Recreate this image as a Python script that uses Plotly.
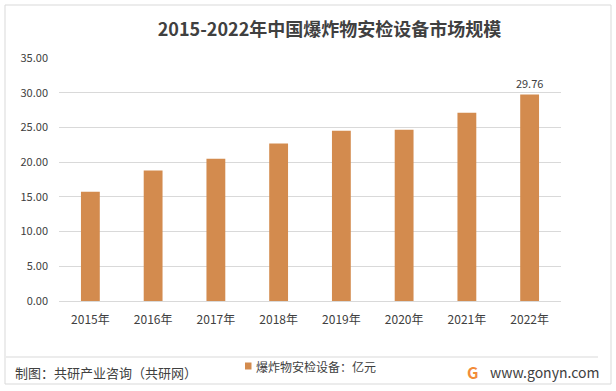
import plotly.graph_objects as go

years = ["2015年", "2016年", "2017年", "2018年", "2019年", "2020年", "2021年", "2022年"]
values = [15.73, 18.80, 20.50, 22.70, 24.53, 24.68, 27.13, 29.76]
labels = ["", "", "", "", "", "", "", "29.76"]
y_ticks = [0, 5, 10, 15, 20, 25, 30, 35]
series_name = "爆炸物安检设备：亿元"

FONT = "Noto Sans CJK SC"
BAR = "#D38B4E"
TXT = "#404040"

W, H = 616, 391
L, R, T, B = 59, 55, 58, 90
PW, PH = W - L - R, H - T - B


def px(x):
    return (x - L) / PW


def py(y):
    return (H - B - y) / PH


fig = go.Figure()
fig.add_trace(go.Bar(
    x=years, y=values, name=series_name,
    marker=dict(color=BAR, line=dict(width=0)),
    width=0.30,
    text=labels, textposition="outside", constraintext="none",
    textfont=dict(size=11, color=TXT, family=FONT),
    cliponaxis=False, showlegend=False,
))

fig.update_layout(
    width=W, height=H,
    margin=dict(l=L, r=R, t=T, b=B, autoexpand=False),
    paper_bgcolor="white", plot_bgcolor="white",
    font=dict(family=FONT, color=TXT),
    title=dict(text="<b>2015-2022年中国爆炸物安检设备市场规模</b>",
               x=329.5 / W, xanchor="center", xref="container",
               y=1 - 30 / H, yanchor="middle",
               font=dict(size=18, color=TXT, family=FONT)),
    showlegend=False,
    xaxis=dict(showgrid=False, showline=True, linecolor="#D9D9D9", linewidth=1,
               ticks="", automargin=False, ticklabelstandoff=8,
               tickfont=dict(size=12, color=TXT, family=FONT)),
    yaxis=dict(range=[0, 35], tickvals=y_ticks, ticktext=[f"{v:.2f}" for v in y_ticks],
               showgrid=True, gridcolor="#D9D9D9", gridwidth=1, zeroline=False,
               showline=False, ticks="", ticklabelstandoff=10, automargin=False,
               tickfont=dict(size=11, color=TXT, family=FONT)),
)

# outer frame
fig.add_shape(type="rect", xref="paper", yref="paper",
              x0=px(5), x1=px(611), y0=py(384), y1=py(5),
              line=dict(color="#D9D9D9", width=1), fillcolor="rgba(0,0,0,0)", layer="below")
# separator line
fig.add_shape(type="line", xref="paper", yref="paper",
              x0=px(6), x1=px(598), y0=py(357), y1=py(357),
              line=dict(color="#D9D9D9", width=1))

# legend (manual)
fig.add_shape(type="rect", xref="paper", yref="paper",
              x0=px(245), x1=px(251.5), y0=py(369.5), y1=py(362.5),
              line=dict(width=0), fillcolor=BAR)
fig.add_annotation(text=series_name, xref="paper", yref="paper",
                   x=px(254), y=py(366), xanchor="left", yanchor="middle",
                   showarrow=False, font=dict(size=12, color=TXT, family=FONT))

fig.add_annotation(text="制图：共研产业咨询（共研网）", xref="paper", yref="paper",
                   x=px(13), y=py(372), xanchor="left", yanchor="middle",
                   showarrow=False, font=dict(size=13, color=TXT, family=FONT))
fig.add_annotation(text="www.gonyn.com", xref="paper", yref="paper",
                   x=px(601), y=py(372), xanchor="right", yanchor="middle",
                   showarrow=False, font=dict(size=14, color=TXT, family=FONT))
fig.add_annotation(text="<b>G</b>", xref="paper", yref="paper",
                   x=px(472), y=py(372), xanchor="center", yanchor="middle",
                   showarrow=False, font=dict(size=16, color="#F28C3A", family=FONT))

fig.write_html("out.html", config={"displayModeBar": False},
               post_script="document.body.style.margin='0';document.body.style.overflow='hidden';")
